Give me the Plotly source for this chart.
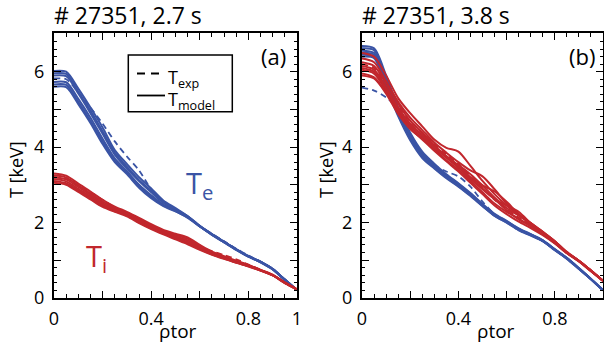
import plotly.graph_objects as go

# ---------------- data ----------------
rho = [0.0, 0.05, 0.1, 0.15, 0.2, 0.25, 0.3, 0.35, 0.4, 0.45, 0.5,
       0.55, 0.6, 0.65, 0.7, 0.75, 0.8, 0.85, 0.9, 0.95, 1.0]

# panel (a): # 27351, 2.7 s
te_model_a = [
    [6.02, 6.00, 5.55, 5.05, 4.52, 3.92, 3.55, 3.20, 2.90, 2.58, 2.38, 2.17, 1.91, 1.69, 1.49, 1.29, 1.11, 0.96, 0.77, 0.48, 0.20],
    [5.96, 5.94, 5.47, 4.97, 4.42, 3.85, 3.48, 3.12, 2.84, 2.54, 2.35, 2.16, 1.90, 1.68, 1.48, 1.28, 1.10, 0.95, 0.76, 0.48, 0.20],
    [5.90, 5.88, 5.42, 4.90, 4.35, 3.80, 3.43, 3.10, 2.80, 2.52, 2.34, 2.15, 1.90, 1.68, 1.48, 1.28, 1.10, 0.95, 0.76, 0.48, 0.20],
    [5.73, 5.72, 5.28, 4.78, 4.22, 3.70, 3.36, 3.00, 2.72, 2.47, 2.31, 2.14, 1.90, 1.68, 1.48, 1.28, 1.10, 0.95, 0.76, 0.48, 0.20],
    [5.66, 5.65, 5.20, 4.70, 4.15, 3.64, 3.32, 2.96, 2.68, 2.45, 2.30, 2.13, 1.89, 1.67, 1.47, 1.27, 1.09, 0.94, 0.75, 0.47, 0.20],
    [5.60, 5.59, 5.14, 4.64, 4.08, 3.60, 3.28, 2.92, 2.64, 2.43, 2.29, 2.12, 1.89, 1.67, 1.47, 1.27, 1.09, 0.94, 0.75, 0.47, 0.20],
]
ti_model_a = [
    [3.30, 3.24, 3.03, 2.82, 2.60, 2.42, 2.28, 2.12, 1.95, 1.80, 1.70, 1.60, 1.40, 1.22, 1.10, 0.98, 0.87, 0.74, 0.61, 0.40, 0.22],
    [3.25, 3.19, 2.98, 2.77, 2.55, 2.39, 2.25, 2.09, 1.92, 1.77, 1.67, 1.56, 1.37, 1.20, 1.08, 0.97, 0.86, 0.74, 0.60, 0.40, 0.22],
    [3.20, 3.14, 2.94, 2.73, 2.51, 2.36, 2.23, 2.06, 1.89, 1.75, 1.63, 1.52, 1.34, 1.18, 1.06, 0.96, 0.85, 0.73, 0.60, 0.40, 0.22],
    [3.15, 3.09, 2.89, 2.69, 2.47, 2.33, 2.20, 2.03, 1.86, 1.72, 1.60, 1.48, 1.31, 1.16, 1.05, 0.94, 0.84, 0.73, 0.60, 0.40, 0.22],
    [3.10, 3.04, 2.85, 2.65, 2.44, 2.30, 2.18, 2.00, 1.84, 1.70, 1.57, 1.45, 1.29, 1.15, 1.04, 0.93, 0.84, 0.72, 0.59, 0.39, 0.22],
    [3.05, 3.00, 2.81, 2.61, 2.41, 2.28, 2.16, 1.98, 1.82, 1.68, 1.55, 1.42, 1.27, 1.14, 1.03, 0.93, 0.83, 0.72, 0.59, 0.39, 0.22],
]
te_exp_a = [5.82, 5.80, 5.45, 5.05, 4.62, 4.15, 3.75, 3.38, 2.88, 2.54, 2.33, 2.15, 1.90, 1.70, 1.50, 1.30, 1.12, 0.96, 0.77, 0.48, 0.20]
ti_exp_a = [3.20, 3.15, 2.98, 2.80, 2.60, 2.40, 2.24, 2.07, 1.90, 1.75, 1.63, 1.50, 1.36, 1.24, 1.13, 1.02, 0.88, 0.74, 0.60, 0.40, 0.22]

# panel (b): # 27351, 3.8 s
te_model_b = [
    [6.68, 6.62, 5.90, 5.05, 4.38, 3.88, 3.56, 3.28, 3.04, 2.78, 2.49, 2.23, 2.04, 1.84, 1.69, 1.53, 1.29, 1.06, 0.79, 0.50, 0.21],
    [6.62, 6.57, 5.83, 5.00, 4.34, 3.84, 3.53, 3.25, 3.02, 2.76, 2.47, 2.21, 2.03, 1.83, 1.68, 1.52, 1.28, 1.05, 0.78, 0.50, 0.20],
    [6.56, 6.50, 5.76, 4.95, 4.30, 3.80, 3.50, 3.23, 3.00, 2.75, 2.46, 2.20, 2.02, 1.82, 1.67, 1.51, 1.28, 1.05, 0.78, 0.50, 0.20],
    [6.50, 6.45, 5.70, 4.90, 4.26, 3.77, 3.47, 3.21, 2.98, 2.73, 2.45, 2.19, 2.01, 1.81, 1.67, 1.51, 1.27, 1.04, 0.77, 0.49, 0.20],
    [6.45, 6.40, 5.65, 4.86, 4.22, 3.74, 3.45, 3.19, 2.96, 2.72, 2.44, 2.18, 2.00, 1.80, 1.66, 1.50, 1.27, 1.04, 0.77, 0.49, 0.19],
    [6.40, 6.36, 5.60, 4.82, 4.18, 3.71, 3.43, 3.17, 2.95, 2.70, 2.43, 2.17, 1.99, 1.79, 1.65, 1.50, 1.26, 1.03, 0.76, 0.49, 0.19],
]
ti_model_b = [
    [6.50, 6.40, 5.90, 5.30, 4.90, 4.55, 4.20, 3.98, 3.88, 3.50, 3.10, 2.75, 2.45, 2.20, 1.98, 1.75, 1.50, 1.20, 0.98, 0.72, 0.45],
    [6.35, 6.25, 5.75, 5.20, 4.78, 4.45, 4.12, 3.85, 3.60, 3.38, 3.22, 2.88, 2.50, 2.20, 1.95, 1.72, 1.48, 1.20, 0.98, 0.72, 0.45],
    [6.25, 6.15, 5.70, 5.15, 4.70, 4.38, 4.05, 3.75, 3.50, 3.20, 2.98, 2.82, 2.55, 2.22, 1.98, 1.75, 1.50, 1.22, 0.98, 0.72, 0.45],
    [6.15, 6.05, 5.60, 5.05, 4.62, 4.32, 4.02, 3.72, 3.45, 3.15, 2.88, 2.62, 2.45, 2.28, 1.98, 1.70, 1.46, 1.20, 0.97, 0.71, 0.45],
    [6.05, 5.95, 5.50, 4.95, 4.55, 4.25, 3.95, 3.65, 3.40, 3.10, 2.80, 2.50, 2.28, 2.10, 1.90, 1.68, 1.45, 1.19, 0.97, 0.71, 0.45],
    [5.95, 5.85, 5.45, 4.90, 4.50, 4.20, 3.90, 3.62, 3.35, 3.05, 2.75, 2.45, 2.22, 2.02, 1.85, 1.66, 1.44, 1.18, 0.96, 0.70, 0.44],
    [6.10, 6.00, 5.55, 5.00, 4.60, 4.30, 4.00, 3.72, 3.52, 3.28, 2.98, 2.66, 2.38, 2.18, 1.98, 1.73, 1.50, 1.20, 0.98, 0.72, 0.45],
    [5.90, 5.82, 5.42, 4.88, 4.48, 4.22, 3.98, 3.76, 3.50, 3.18, 2.90, 2.62, 2.32, 2.08, 1.90, 1.70, 1.46, 1.19, 0.97, 0.71, 0.45],
]
te_exp_b = [5.58, 5.50, 5.32, 5.00, 4.28, 3.82, 3.52, 3.35, 3.22, 2.95, 2.55, 2.22, 2.02, 1.82, 1.68, 1.52, 1.28, 1.05, 0.78, 0.50, 0.20]
ti_exp_b = [6.20, 6.10, 5.65, 5.10, 4.68, 4.38, 4.08, 3.80, 3.55, 3.22, 2.92, 2.60, 2.35, 2.13, 1.93, 1.72, 1.48, 1.20, 0.98, 0.72, 0.45]

x_tickvals = [0, 0.2, 0.4, 0.6, 0.8, 1.0]
x_ticktext = ["0", " ", "0.4", " ", "0.8", "1"]
y_tickvals = [0, 1, 2, 3, 4, 5, 6, 7]
y_ticktext = ["0", " ", "2", " ", "4", " ", "6", " "]

titles = ["# 27351, 2.7 s", "# 27351, 3.8 s"]
panel_labels = ["(a)", "(b)"]
legend_labels = ["T<sub>exp</sub>", "T<sub>model</sub>"]

# ---------------- style ----------------
BLUE = "#3a54a5"
RED = "#c1272d"
FONT = "Open Sans"
W, H = 604, 345
PLOT_DASH = "6px,4px"

fig = go.Figure()


def add_line(y, color, dash, xa, ya, width=2.0):
    fig.add_trace(go.Scatter(
        x=rho, y=y, mode="lines", xaxis=xa, yaxis=ya,
        line=dict(color=color, width=width, dash=dash, shape="spline", smoothing=0.8),
        showlegend=False, hoverinfo="skip"))


# panel a: dashed first, then model bundle
add_line(te_exp_a, BLUE, PLOT_DASH, "x", "y", 1.8)
add_line(ti_exp_a, RED, PLOT_DASH, "x", "y", 1.8)
for y in te_model_a:
    add_line(y, BLUE, "solid", "x", "y")
for y in ti_model_a:
    add_line(y, RED, "solid", "x", "y")

# panel b
add_line(te_exp_b, BLUE, PLOT_DASH, "x2", "y2", 1.8)
add_line(ti_exp_b, RED, PLOT_DASH, "x2", "y2", 1.8)
for y in te_model_b:
    add_line(y, BLUE, "solid", "x2", "y2")
for y in ti_model_b:
    add_line(y, RED, "solid", "x2", "y2")


def px_x(p):
    return p / W


def px_y(p):
    return 1 - p / H


ydom = [px_y(297.7), px_y(33.3)]
xdom_a = [px_x(54), px_x(297)]
xdom_b = [px_x(362), px_x(603)]

axis_common = dict(
    showline=True, linecolor="black", linewidth=2, mirror="ticks",
    ticks="inside", ticklen=7, tickwidth=1.3, tickcolor="black",
    showgrid=False, zeroline=False, automargin=False,
    tickfont=dict(family=FONT, size=18, color="black"),
    ticklabelstandoff=4,
)

xcommon = dict(axis_common, range=[0, 1], tickmode="array",
               tickvals=x_tickvals, ticktext=x_ticktext,
               minor=dict(dtick=0.05, tick0=0, ticks="inside", ticklen=3.5,
                          tickwidth=1, tickcolor="black", showgrid=False))
ycommon = dict(axis_common, range=[0, 7.02], tickmode="array",
               tickvals=y_tickvals, ticktext=y_ticktext,
               minor=dict(dtick=0.2, tick0=0, ticks="inside", ticklen=3,
                          tickwidth=1, tickcolor="black", showgrid=False))

# legend box (drawn as layout decoration)
shapes = [
    dict(type="rect", xref="paper", yref="paper",
         x0=px_x(128.3), x1=px_x(232.3), y0=px_y(111.7), y1=px_y(55),
         line=dict(color="black", width=1.5), fillcolor="white", layer="above"),
    dict(type="line", xref="paper", yref="paper",
         x0=px_x(137), x1=px_x(165), y0=px_y(73.5), y1=px_y(73.5),
         line=dict(color="black", width=1.8, dash="8px,6px"), layer="above"),
    dict(type="line", xref="paper", yref="paper",
         x0=px_x(137), x1=px_x(165), y0=px_y(95.5), y1=px_y(95.5),
         line=dict(color="black", width=1.8), layer="above"),
]

fig.update_layout(
    template="none",
    width=W, height=H,
    margin=dict(l=0, r=0, t=0, b=0, pad=0),
    paper_bgcolor="white", plot_bgcolor="white",
    xaxis=dict(xcommon, domain=xdom_a, anchor="y"),
    yaxis=dict(ycommon, domain=ydom, anchor="x"),
    xaxis2=dict(xcommon, domain=xdom_b, anchor="y2"),
    yaxis2=dict(ycommon, domain=ydom, anchor="x2"),
    showlegend=False,
    shapes=shapes,
)

ann = []
# legend text
for yc, t in zip([78, 100.5], legend_labels):
    ann.append(dict(x=px_x(166), y=px_y(yc), xref="paper", yref="paper",
                    text=t, showarrow=False, xanchor="left", yanchor="middle",
                    font=dict(family=FONT, size=18, color="black")))
# titles
for xl, t in zip([54, 362], titles):
    ann.append(dict(x=px_x(xl - 2), y=px_y(15), xref="paper", yref="paper",
                    text=t, showarrow=False, xanchor="left", yanchor="middle",
                    font=dict(family=FONT, size=23, color="black")))
# panel labels
for xc, t in zip([273.5, 582], panel_labels):
    ann.append(dict(x=px_x(xc), y=px_y(56), xref="paper", yref="paper",
                    text=t, showarrow=False, xanchor="center", yanchor="middle",
                    font=dict(family=FONT, size=22, color="black")))
# axis titles
for xc in [16, 326]:
    ann.append(dict(x=px_x(xc), y=px_y(170), xref="paper", yref="paper",
                    text="T [keV]", textangle=-90, showarrow=False,
                    xanchor="center", yanchor="middle",
                    font=dict(family=FONT, size=18, color="black")))
for xc in [178, 496]:
    ann.append(dict(x=px_x(xc), y=px_y(331), xref="paper", yref="paper",
                    text="ρtor", showarrow=False,
                    xanchor="center", yanchor="middle",
                    font=dict(family=FONT, size=19, color="black")))
# species labels
ann.append(dict(x=px_x(184), y=px_y(184), xref="paper", yref="paper",
                text="T<sub>e</sub>", showarrow=False, xanchor="left", yanchor="middle",
                font=dict(family=FONT, size=29, color=BLUE)))
ann.append(dict(x=px_x(84), y=px_y(257), xref="paper", yref="paper",
                text="T<sub>i</sub>", showarrow=False, xanchor="left", yanchor="middle",
                font=dict(family=FONT, size=29, color=RED)))

fig.update_layout(annotations=ann)

fig.write_html("out.html",
               config={"displayModeBar": False},
               post_script="document.body.style.margin='0';document.body.style.padding='0';")
